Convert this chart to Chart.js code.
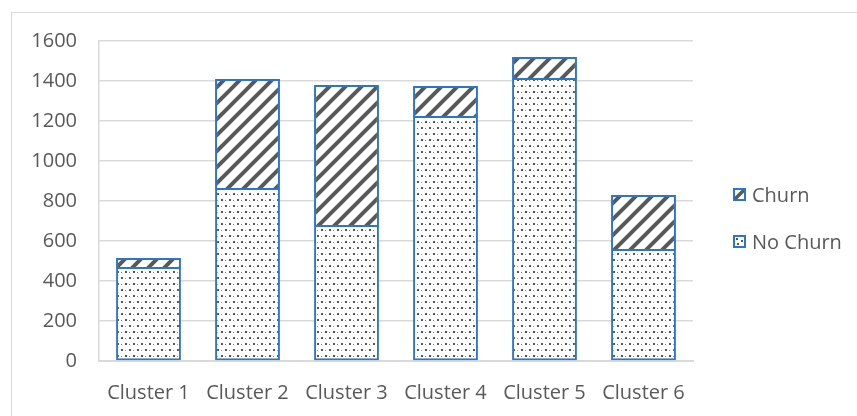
<!DOCTYPE html>
<html><head><meta charset="utf-8">
<script src="https://cdn.jsdelivr.net/npm/chart.js@4.4.0/dist/chart.umd.min.js"></script>
<style>
html,body{margin:0;padding:0;background:#fff;overflow:hidden}
#wrap{position:relative;width:857px;height:416px;overflow:hidden}
#frame{position:absolute;left:11px;top:12px;width:900px;height:500px;border:1px solid #D9D9D9;box-sizing:border-box}
canvas#c{position:absolute;left:0;top:0}
.lg{position:absolute;font-family:'Open Sans';font-size:20px;color:#595959;line-height:24px;white-space:nowrap}
.sw{position:absolute;width:13px;height:13px;box-sizing:border-box;border:2px solid #2A76CC}
</style></head><body>
<div id="wrap">
<div id="frame"></div>
<canvas id="c" width="857" height="416"></canvas>
<div class="sw" id="sw1" style="left:733px;top:188px"></div><div class="lg" id="lg1" style="left:752px;top:183px"></div>
<div class="sw" id="sw0" style="left:733px;top:235px"></div><div class="lg" id="lg0" style="left:752px;top:230px"></div>
</div>
<script>
const categories = ['Cluster 1', 'Cluster 2', 'Cluster 3', 'Cluster 4', 'Cluster 5', 'Cluster 6'];
const noChurn = [460, 855, 670, 1215, 1405, 550];
const churn = [55, 555, 710, 160, 115, 280];
const seriesNames = ['No Churn', 'Churn'];
const yTickValues = [0, 200, 400, 600, 800, 1000, 1200, 1400, 1600];

const BLUE = '#2A76CC';
const GRAY = '#595959';

function stripeTile() {
  const t = document.createElement('canvas');
  t.width = 16; t.height = 16;
  const g = t.getContext('2d');
  g.fillStyle = '#fff'; g.fillRect(0, 0, 16, 16);
  g.strokeStyle = GRAY; g.lineWidth = 4; g.lineCap = 'square';
  for (const x0 of [-16, 0, 16]) {
    g.beginPath(); g.moveTo(x0 - 4, 20); g.lineTo(x0 + 20, -4); g.stroke();
  }
  return t;
}
function dotTile() {
  const t = document.createElement('canvas');
  t.width = 8; t.height = 12;
  const g = t.getContext('2d');
  g.fillStyle = '#fff'; g.fillRect(0, 0, 8, 12);
  g.fillStyle = '#555';
  g.fillRect(1, 1, 2, 2);
  g.fillRect(5, 7, 2, 2);
  g.fillStyle = '#9a9a9a';
  g.fillRect(5, 2, 1, 1);
  g.fillRect(1, 8, 1, 1);
  return t;
}
const stripeC = stripeTile();
const dotC = dotTile();
const ctx = document.getElementById('c').getContext('2d');
const stripePat = ctx.createPattern(stripeC, 'repeat');
const dotPat = ctx.createPattern(dotC, 'repeat');

document.getElementById('lg1').textContent = seriesNames[1];
document.getElementById('lg0').textContent = seriesNames[0];
(function(){
  const s = document.createElement('canvas'); s.width = 9; s.height = 9;
  const g = s.getContext('2d'); g.fillStyle = '#fff'; g.fillRect(0,0,9,9);
  g.strokeStyle = GRAY; g.lineWidth = 3.5; g.beginPath(); g.moveTo(0,9); g.lineTo(9,0); g.stroke();
  document.getElementById('sw1').style.background = 'url(' + s.toDataURL() + ')';
  const d = document.createElement('canvas'); d.width = 9; d.height = 9;
  const h = d.getContext('2d'); h.fillStyle = '#fff'; h.fillRect(0,0,9,9);
  h.fillStyle = '#555'; h.fillRect(1,1,2,2); h.fillRect(6,3,2,2); h.fillRect(2,6,2,2);
  document.getElementById('sw0').style.background = 'url(' + d.toDataURL() + ')';
})();

const font = { family: 'Open Sans', size: 20 };

new Chart(ctx, {
  type: 'bar',
  data: {
    labels: categories,
    datasets: [
      { label: seriesNames[0], data: noChurn, backgroundColor: dotPat, borderColor: BLUE, borderWidth: 2, borderSkipped: 'top' },
      { label: seriesNames[1], data: churn, backgroundColor: stripePat, borderColor: BLUE, borderWidth: 2, borderSkipped: false }
    ]
  },
  options: {
    responsive: false,
    animation: false,
    devicePixelRatio: 1,
    layout: { padding: { top: 41, right: 164, left: 0, bottom: 0 } },
    datasets: { bar: { categoryPercentage: 1, barPercentage: 0.655 } },
    plugins: { legend: { display: false }, tooltip: { enabled: false } },
    scales: {
      x: {
        stacked: true,
        grid: { display: false, drawTicks: false },
        border: { display: true, color: '#D9D9D9', width: 2 },
        ticks: { color: GRAY, font: font, padding: 20, maxRotation: 0 },
        afterFit(s) { s.height = 55; }
      },
      y: {
        stacked: true,
        min: 0, max: 1600,
        afterBuildTicks(s) { s.ticks = yTickValues.map(v => ({ value: v })); },
        grid: { color: '#D9D9D9', lineWidth: 1.5, drawTicks: false },
        border: { display: true, color: '#D9D9D9', width: 1.5 },
        ticks: { color: GRAY, font: font, padding: 22, callback: v => String(v) },
        afterFit(s) { s.width = 99; }
      }
    }
  }
});
</script>
</body></html>
